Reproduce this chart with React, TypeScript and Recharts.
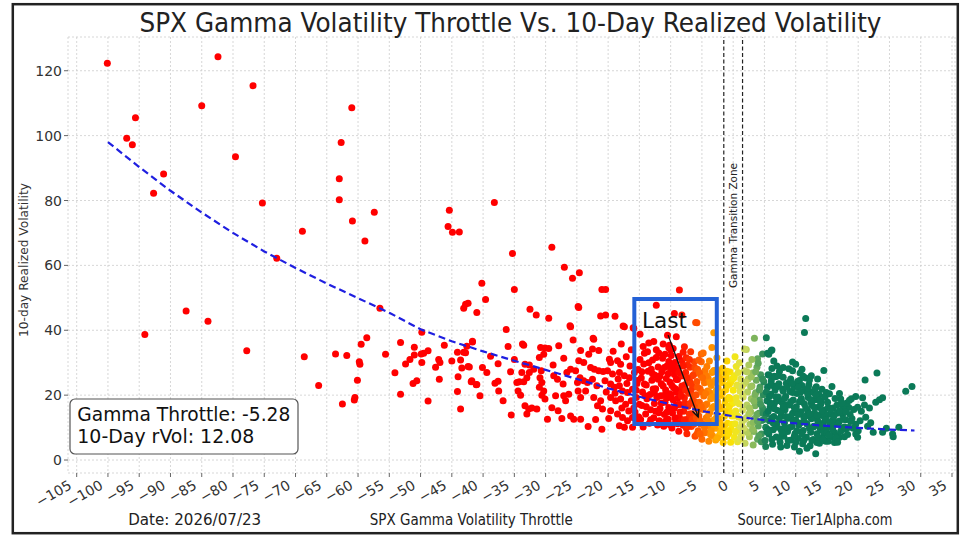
import React from 'react';
import { ScatterChart, Scatter, XAxis, YAxis, CartesianGrid, ReferenceLine, ReferenceArea } from 'recharts';

type P = [number, number];

const xTicks = [-105, -100, -95, -90, -85, -80, -75, -70, -65, -60, -55, -50, -45, -40, -35, -30, -25, -20, -15, -10, -5, 0, 5, 10, 15, 20, 25, 30, 35];
const yTicks = [0, 20, 40, 60, 80, 100, 120];

// Sparse outliers (high vol / far negative throttle)
const outlierPts: P[] = [
  [-100.1, 122.3], [-82.4, 124.3], [-76.8, 115.4], [-85.0, 109.2], [-95.6, 105.5], [-97.0, 99.2], [-96.1, 97.2],
  [-61.0, 108.6], [-62.7, 97.9], [-79.6, 93.5], [-91.1, 88.2], [-92.7, 82.2], [-75.3, 79.2], [-63.0, 86.7],
  [-63.0, 80.2], [-60.9, 73.7], [-57.4, 76.4], [-58.9, 67.5], [-68.9, 70.5], [-73.0, 62.2], [-45.4, 77.0],
  [-45.6, 72.0], [-44.9, 70.2], [-43.8, 70.3], [-38.2, 79.4], [-35.3, 63.7], [-29.0, 65.6], [-27.0, 59.4],
  [-25.7, 56.0], [-24.6, 57.7], [-21.0, 52.6], [-20.4, 52.6], [-35.0, 52.6], [-8.6, 52.4], [-40.2, 54.5],
  [-39.6, 49.5], [-43.1, 46.8], [-42.8, 48.0], [-42.4, 48.3], [-41.0, 45.5], [-24.8, 47.3], [-12.3, 47.7],
  [-94.1, 38.7], [-87.5, 45.9], [-84.0, 42.8], [-77.8, 33.7], [-68.6, 31.8], [-66.3, 23.0], [-56.5, 46.8],
];

// Middle-left scattered points
const midLeftPts: P[] = [
  [-63.6, 32.7], [-61.8, 32.2], [-62.5, 17.3], [-60.5, 19.3], [-60.6, 18.5], [-60.1, 24.6], [-59.8, 30.3],
  [-59.7, 29.5], [-59.5, 35.7], [-58.6, 37.7], [-55.6, 32.6], [-54.1, 26.9], [-53.2, 36.2], [-53.2, 20.3],
  [-52.4, 29.6], [-51.7, 31.0], [-51.0, 34.8], [-51.0, 32.4], [-51.2, 23.6], [-50.6, 24.4], [-49.8, 39.4],
  [-49.9, 32.7], [-49.5, 32.9], [-49.8, 30.1], [-48.8, 33.7], [-48.8, 18.2], [-47.6, 28.6], [-47.1, 31.0],
  [-46.9, 30.1], [-47.0, 24.9], [-46.2, 35.4], [-45.0, 30.5], [-44.1, 33.2], [-44.0, 25.7], [-44.1, 21.1],
  [-43.6, 15.7], [-43.6, 30.8], [-43.4, 28.4], [-43.1, 33.2], [-42.8, 33.1], [-42.6, 35.1], [-42.4, 28.8],
  [-41.8, 24.4], [-41.7, 36.6], [-41.0, 23.3], [-40.5, 19.8], [-40.1, 28.5], [-39.4, 27.0],
];

// Red cloud between -42 and -15
const redCloudPts: P[] = [
  [-32.5, 46.5], [-31.5, 44.7], [-29.5, 43.7], [-24.7, 47.0], [-26.0, 41.1], [-36.3, 40.2], [-21.2, 44.4],
  [-20.4, 44.7], [-18.9, 44.3], [-17.4, 41.1], [-15.9, 40.6], [-22.3, 37.2], [-41.7, 36.4], [-33.5, 35.4],
  [-35.0, 31.0], [-42.2, 28.7], [-37.6, 29.7], [-35.6, 27.2], [-41.9, 24.1], [-41.1, 23.2], [-38.1, 23.7],
  [-37.6, 24.3], [-37.5, 21.3], [-36.8, 18.3], [-30.8, 34.7], [-30.3, 32.6], [-31.0, 31.6], [-30.1, 34.5],
  [-29.5, 34.4], [-33.3, 29.5], [-32.6, 29.3], [-31.9, 28.0], [-33.8, 27.0], [-32.6, 27.0], [-33.0, 25.4],
  [-34.6, 23.9], [-34.2, 24.1], [-33.5, 24.1], [-34.4, 21.3], [-34.0, 20.0], [-33.3, 16.7], [-32.7, 15.7],
  [-32.2, 16.0], [-31.4, 15.7], [-33.0, 14.2], [-30.7, 27.5], [-30.9, 25.4], [-30.6, 23.9], [-31.0, 22.4],
  [-30.3, 21.3], [-30.6, 20.0], [-30.1, 18.8], [-29.7, 12.6], [-28.8, 29.3], [-27.1, 31.4], [-28.7, 26.0],
  [-28.1, 24.9], [-27.2, 23.4], [-28.4, 19.8], [-27.1, 19.8], [-26.3, 20.3], [-26.8, 18.3], [-26.0, 28.0],
  [-25.2, 27.5], [-26.6, 27.0], [-27.4, 12.8], [-26.0, 13.6], [-25.5, 12.6], [-24.4, 12.6], [-24.7, 30.6],
  [-23.9, 30.1], [-24.5, 25.4], [-23.9, 24.4], [-24.9, 23.9], [-24.8, 21.3], [-23.6, 21.3], [-24.4, 19.3],
  [-24.4, 33.8], [-23.1, 32.6], [-22.5, 34.2], [-21.5, 33.8], [-22.8, 28.5], [-22.2, 28.0], [-21.5, 27.5],
  [-20.8, 27.3], [-23.3, 23.9], [-22.5, 24.9], [-21.8, 22.9], [-22.3, 19.3], [-21.2, 18.3], [-21.7, 16.7],
  [-20.9, 15.7], [-23.2, 10.3], [-22.0, 12.5], [-21.0, 9.5], [-19.8, 31.1], [-19.6, 30.1], [-18.5, 30.6],
  [-18.0, 29.5], [-20.1, 27.5], [-19.3, 26.5], [-18.2, 27.0], [-17.4, 26.0], [-16.6, 25.4], [-19.6, 23.4],
  [-19.0, 22.4], [-18.2, 22.9], [-17.7, 21.3], [-16.9, 20.8], [-16.1, 21.8], [-19.6, 19.3], [-18.8, 18.3],
  [-18.0, 18.8], [-17.2, 17.2], [-16.3, 18.3], [-15.5, 19.3], [-19.6, 15.2], [-18.5, 14.2], [-17.7, 13.1],
  [-16.9, 12.1], [-18.2, 10.6], [-16.1, 13.1], [-17.4, 10.1], [-16.1, 10.1], [-33.7, 35.8], [-26.1, 41.4],
  [-22.4, 37.5], [-17.6, 41.3], [-16.0, 40.8], [-17.9, 35.8], [-19.2, 33.5], [-18.4, 25.0], [-17.0, 23.6],
  [-16.5, 29.0], [-15.8, 27.0], [-15.3, 24.5], [-15.9, 16.0], [-17.8, 16.0], [-19.9, 12.8], [-15.4, 11.7],
  [-16.7, 15.1], [-18.9, 20.6], [-17.1, 31.8], [-16.3, 34.0], [-20.3, 21.0], [-20.5, 24.4], [-36.0, 35.0],
  [-38.8, 32.0], [-27.9, 35.2], [-25.6, 37.0], [-29.0, 16.1], [-28.0, 15.2], [-35.5, 13.9],
];

// Dense red zone -15 to -6
const redDensePts: P[] = [
  [-14.8, 12.5], [-14.6, 16.8], [-14.5, 21.0], [-14.7, 25.3], [-14.3, 29.6], [-14.2, 32.9], [-14.0, 14.2],
  [-13.8, 18.9], [-13.9, 23.1], [-13.6, 27.4], [-13.4, 11.3], [-13.2, 15.5], [-13.3, 20.2], [-13.0, 24.6],
  [-12.9, 30.8], [-12.7, 13.0], [-12.6, 17.4], [-12.4, 22.0], [-12.5, 26.1], [-12.2, 19.3], [-12.1, 10.8],
  [-12.0, 28.7], [-12.3, 34.0], [-13.5, 36.1], [-14.9, 38.8], [-11.8, 12.1], [-11.7, 15.9], [-11.6, 19.8],
  [-11.5, 23.5], [-11.4, 27.2], [-11.3, 31.4], [-11.1, 10.4], [-11.0, 14.0], [-10.9, 17.8], [-10.8, 21.6],
  [-10.7, 25.1], [-10.6, 29.0], [-10.4, 12.6], [-10.3, 16.2], [-10.2, 20.4], [-10.1, 24.0], [-10.0, 27.9],
  [-9.9, 32.2], [-9.8, 9.9], [-9.7, 14.5], [-9.6, 18.6], [-9.5, 22.3], [-9.4, 26.4], [-9.3, 30.1],
  [-9.2, 11.8], [-9.1, 16.9], [-9.0, 20.9], [-10.5, 38.5], [-9.1, 38.0], [-10.2, 35.4], [-10.0, 33.9],
  [-8.9, 24.8], [-8.8, 28.4], [-8.7, 8.9], [-8.6, 13.2], [-8.5, 17.1], [-8.4, 21.4], [-8.3, 25.9],
  [-8.2, 30.6], [-8.0, 10.7], [-7.9, 15.0], [-7.8, 19.2], [-7.7, 23.2], [-7.6, 27.0], [-7.5, 31.5],
  [-7.4, 8.1], [-7.3, 12.6], [-7.2, 16.6], [-7.1, 20.6], [-7.0, 24.5], [-6.9, 28.6], [-6.8, 33.4],
  [-6.7, 10.3], [-6.6, 14.3], [-6.5, 18.4], [-6.4, 22.4], [-6.3, 26.4], [-6.2, 30.3], [-6.1, 7.3],
  [-6.0, 12.1], [-6.0, 16.2], [-8.2, 44.7], [-9.4, 45.2], [-10.3, 34.6], [-7.8, 34.9],
  [-15.7, 14.8], [-15.4, 23.6], [-15.2, 27.9], [-15.0, 17.2], [-14.9, 31.0], [-14.4, 10.2], [-14.1, 19.8],
  [-13.7, 33.4], [-13.1, 28.0], [-12.8, 21.9], [-12.4, 15.0], [-12.0, 24.9], [-11.9, 33.0], [-11.5, 17.6],
  [-11.2, 22.8], [-11.0, 28.5], [-10.8, 12.0], [-10.5, 19.2], [-10.3, 30.4], [-10.0, 15.1], [-9.8, 23.0],
  [-9.6, 28.0], [-9.3, 13.0], [-9.1, 24.8], [-8.9, 19.0], [-8.7, 31.9], [-8.4, 11.8], [-8.2, 22.8],
  [-7.9, 26.2], [-7.7, 17.5], [-7.5, 9.9], [-7.3, 29.3], [-7.0, 14.2], [-6.8, 21.4], [-6.5, 26.0],
  [-6.3, 11.0], [-6.1, 18.0],
  [-15.5, 21.5], [-15.1, 13.3], [-14.6, 27.2], [-14.2, 23.4], [-13.9, 16.4], [-13.5, 30.0], [-13.2, 12.4],
  [-12.9, 26.6], [-12.6, 20.6], [-12.3, 31.6], [-11.9, 14.6], [-11.7, 25.9], [-11.4, 11.0], [-11.1, 19.9],
  [-10.9, 32.6], [-10.6, 14.7], [-10.4, 26.6], [-10.1, 10.9], [-9.9, 20.2], [-9.7, 29.4], [-9.4, 16.0],
  [-9.2, 21.9], [-8.9, 11.2], [-8.7, 27.0], [-8.5, 14.8], [-8.3, 19.8], [-8.0, 29.0], [-7.8, 12.4],
  [-7.6, 21.5], [-7.4, 25.4], [-7.2, 10.4], [-6.9, 17.4], [-6.7, 23.5], [-6.5, 12.6], [-6.3, 20.0],
  [-6.1, 28.4], [-14.4, 35.0], [-12.7, 36.5], [-11.2, 35.8], [-9.6, 34.4], [-8.0, 33.2], [-7.0, 31.0],
];

// Orange / yellow transition -6 to 0
const orangePts: P[] = [
  [-5.9, 20.1], [-5.8, 24.2], [-5.7, 28.0], [-5.6, 9.0], [-5.5, 13.6], [-5.4, 17.8], [-5.3, 22.0],
  [-5.2, 26.2], [-5.1, 30.3], [-5.0, 6.4], [-4.9, 11.2], [-4.8, 15.6], [-4.7, 19.7], [-4.6, 23.8],
  [-4.5, 27.6], [-4.4, 8.5], [-4.3, 13.0], [-4.2, 17.3], [-4.1, 21.3], [-4.0, 25.2], [-3.9, 5.8],
  [-3.8, 10.3], [-3.7, 14.8], [-3.6, 18.9], [-3.5, 23.0], [-3.4, 27.0], [-3.3, 7.5], [-3.2, 12.2],
  [-3.1, 16.5], [-3.0, 20.6], [-5.8, 42.3], [-5.1, 32.7], [-3.1, 39.2], [-3.8, 30.5], [-3.4, 34.7],
  [-6.0, 42.4], [-2.9, 24.6], [-2.8, 6.2], [-2.7, 9.8], [-2.6, 14.0], [-2.5, 18.1], [-2.4, 22.2],
  [-2.3, 26.5], [-2.2, 7.6], [-2.1, 11.7], [-2.0, 15.8], [-1.9, 19.9], [-1.8, 23.9], [-1.7, 28.3],
  [-1.6, 5.4], [-1.5, 9.5], [-1.4, 13.5], [-1.3, 17.6], [-1.2, 21.6], [-1.1, 25.5], [-1.0, 7.3],
  [-0.9, 11.3], [-0.8, 15.4], [-0.7, 19.3], [-0.6, 23.4], [-0.5, 27.1], [-0.4, 5.5], [-0.3, 9.4],
  [-0.2, 13.6], [-0.1, 17.5], [0.0, 21.5], [-5.8, 8.0], [-5.6, 15.5], [-5.4, 26.9], [-5.2, 11.0],
  [-5.0, 21.0], [-4.7, 8.3], [-4.5, 16.9], [-4.3, 26.0], [-4.0, 12.0], [-3.8, 20.9], [-3.6, 7.8],
  [-3.4, 16.0], [-3.2, 24.0], [-3.0, 10.5], [-2.8, 19.0], [-2.6, 27.8], [-2.4, 12.8], [-2.2, 20.4],
  [-2.0, 8.6], [-1.8, 16.0], [-1.6, 24.8], [-1.4, 10.6], [-1.2, 18.5], [-1.0, 27.4], [-0.8, 9.0],
  [-0.6, 16.6], [-0.4, 24.0], [-0.2, 11.0], [0.0, 17.8],
  [-5.9, 13.0], [-5.7, 22.4], [-5.5, 30.8], [-5.3, 8.0], [-5.1, 16.4], [-4.9, 25.4], [-4.6, 10.2],
  [-4.4, 20.5], [-4.2, 28.8], [-3.9, 14.0], [-3.7, 23.8], [-3.5, 9.0], [-3.3, 19.5], [-3.1, 27.6],
  [-2.9, 12.6], [-2.7, 21.4], [-2.5, 6.8], [-2.3, 16.6], [-2.1, 25.0], [-1.9, 10.6], [-1.7, 20.8],
  [-1.5, 27.0], [-1.3, 7.2], [-1.1, 14.7], [-0.9, 23.0], [-0.7, 8.2], [-0.5, 19.0], [-0.3, 14.6],
  [-0.1, 25.0], [-4.8, 33.0], [-2.6, 31.5], [-1.0, 30.5],
];

// Yellow-green to green zone 0 to 29
const greenPts: P[] = [
  [0.1, 25.3], [0.2, 7.0], [0.3, 11.2], [0.4, 15.1], [0.5, 19.2], [0.5, 28.8], [0.6, 23.1], [0.7, 5.6],
  [0.8, 9.3], [0.9, 13.2], [1.0, 17.3], [1.1, 21.2], [1.2, 25.0], [1.3, 7.5], [1.4, 11.5], [1.5, 15.4],
  [1.6, 19.4], [1.7, 23.4], [1.8, 27.5], [1.9, 5.2], [2.0, 9.0], [2.1, 13.0], [2.2, 17.0], [2.3, 21.0],
  [2.4, 25.0], [2.5, 29.3], [2.6, 7.2], [2.7, 11.0], [2.8, 14.9], [2.9, 18.9], [3.0, 22.8], [3.1, 26.8],
  [3.2, 4.6], [3.3, 8.8], [3.4, 12.8], [3.5, 16.7], [3.6, 20.7], [3.7, 24.6], [3.8, 28.6], [3.9, 6.4],
  [4.0, 10.5], [4.1, 14.4], [4.2, 18.5], [4.3, 22.5], [4.4, 26.3], [4.5, 8.0], [4.6, 12.2], [4.7, 16.0],
  [4.8, 20.1], [4.9, 24.1], [0.3, 31.8], [2.1, 34.1], [1.8, 34.2], [3.4, 37.5], [3.9, 31.2], [4.0, 29.8],
  [4.7, 32.7], [0.2, 26.0], [0.4, 8.7], [0.7, 13.6], [0.9, 22.8], [1.2, 10.2], [1.5, 19.8], [1.8, 12.5],
  [2.0, 24.0], [2.3, 8.5], [2.6, 16.0], [2.9, 25.7], [3.2, 11.6], [3.5, 20.1], [3.8, 14.0], [4.1, 7.5],
  [4.4, 17.2], [4.7, 25.0],
  [0.2, 13.6], [0.6, 17.8], [0.8, 27.0], [1.1, 6.5], [1.4, 22.5], [1.7, 9.8], [2.2, 27.2], [2.5, 14.2],
  [2.8, 22.6], [3.1, 9.5], [3.3, 18.2], [3.6, 27.2], [3.9, 12.0], [4.2, 21.6], [4.5, 5.6], [4.8, 14.4],
  [3.0, 31.0], [1.0, 30.0],
  [5.1, 6.0], [5.2, 10.1], [5.3, 14.2], [5.4, 18.3], [5.5, 22.4], [5.6, 26.3], [5.7, 8.0], [5.8, 12.1],
  [5.9, 16.2], [6.0, 20.3], [6.1, 24.4], [6.2, 28.2], [6.3, 4.9], [6.4, 9.3], [6.5, 13.4], [6.6, 17.5],
  [6.7, 21.6], [6.8, 25.7], [6.9, 7.1], [7.0, 11.2], [7.1, 15.3], [7.2, 19.4], [7.3, 23.5], [7.4, 27.3],
  [7.5, 5.5], [5.3, 37.7], [6.1, 33.8], [5.7, 32.6], [5.8, 26.1], [6.6, 25.8], [6.2, 33.9], [5.5, 32.9],
  [7.6, 9.6], [7.7, 13.7], [7.8, 17.8], [7.9, 21.9], [8.0, 25.5], [8.1, 7.3], [8.2, 11.4], [8.3, 15.5],
  [8.4, 19.6], [8.5, 23.7], [8.6, 4.5], [8.7, 8.8], [8.8, 12.9], [8.9, 28.1], [9.0, 17.0], [9.1, 21.1],
  [9.2, 25.0], [9.3, 6.2], [9.4, 10.3], [9.5, 14.4], [9.6, 18.5], [9.7, 22.6], [9.8, 4.0], [9.9, 8.2],
  [10.0, 12.3], [10.1, 16.4], [10.2, 20.5], [10.3, 24.2], [10.4, 6.6], [10.5, 10.8], [10.6, 2.7],
  [10.7, 26.8], [10.6, 24.5], [10.8, 14.9], [10.9, 19.0], [11.0, 23.0], [11.1, 5.0], [11.2, 9.1],
  [11.3, 13.2], [11.4, 17.3], [11.5, 21.4], [11.6, 25.3], [11.7, 7.0], [11.8, 11.1], [11.9, 15.2],
  [12.0, 19.3], [12.1, 23.2], [12.2, 24.7], [12.3, 4.4], [12.4, 8.6], [12.5, 12.7], [11.6, 43.6],
  [11.4, 39.3], [10.0, 29.5], [9.5, 30.2], [12.6, 16.8], [12.7, 20.9], [12.8, 6.3], [12.9, 10.4],
  [13.0, 14.5], [13.1, 18.6], [13.2, 1.9], [13.3, 22.6], [13.4, 8.1], [13.5, 12.2], [13.6, 16.3],
  [13.7, 20.3], [13.8, 5.2], [13.9, 9.7], [14.0, 13.8], [14.1, 17.9], [14.2, 21.8], [14.3, 7.0],
  [14.4, 11.3], [14.5, 27.6], [14.6, 15.4], [14.7, 19.4], [14.8, 5.8], [14.9, 9.9], [15.0, 13.9],
  [5.0, 12.6], [5.3, 21.0], [5.6, 9.4], [5.9, 17.6], [6.2, 13.0], [6.5, 22.8], [6.8, 10.1], [7.1, 18.3],
  [7.4, 6.8], [7.7, 15.0], [8.0, 21.2], [8.3, 9.9], [8.6, 17.0], [8.9, 24.0], [9.2, 13.5], [9.5, 20.8],
  [9.8, 7.4], [10.1, 15.3], [10.4, 22.5], [10.7, 11.4], [11.0, 18.0], [11.3, 6.1], [11.6, 13.6],
  [11.9, 20.4], [12.2, 9.8], [12.5, 17.6], [12.8, 13.2], [13.1, 22.0], [13.4, 5.4], [13.7, 11.4],
  [14.0, 17.2], [14.3, 9.0], [14.6, 13.2], [14.9, 20.8], [15.2, 5.8], [15.5, 10.3], [15.8, 14.0],
  [16.2, 8.5], [16.6, 17.0], [17.0, 7.0], [17.5, 14.0], [18.0, 9.5], [18.5, 16.2],
  [5.2, 4.2], [5.4, 8.7], [5.6, 15.0], [5.8, 19.6], [6.0, 23.2], [6.2, 6.4], [6.4, 11.4], [6.6, 15.8],
  [6.8, 19.5], [7.0, 22.6], [7.2, 26.0], [7.4, 12.8], [7.6, 4.0], [7.8, 8.4], [8.0, 16.4], [8.2, 19.0],
  [8.4, 13.4], [8.6, 22.4], [8.8, 6.0], [9.0, 10.0], [9.2, 18.0], [9.4, 23.6], [9.6, 12.0], [9.8, 16.0],
  [10.0, 5.4], [10.2, 9.0], [10.4, 14.0], [10.6, 18.0], [10.8, 21.0], [11.0, 8.0], [11.2, 25.8],
  [11.4, 11.8], [11.6, 16.0], [11.8, 3.6], [12.0, 22.2], [12.2, 14.2], [12.4, 18.6], [12.6, 6.0],
  [12.8, 10.2], [13.0, 16.2], [13.2, 20.0], [13.4, 13.8], [13.6, 7.0], [13.8, 18.4], [14.0, 10.6],
  [14.2, 15.2], [14.4, 6.4], [14.6, 19.6], [14.8, 12.4], [15.0, 8.4], [15.2, 16.2], [15.4, 20.4],
  [15.6, 7.0], [15.8, 12.0], [16.0, 16.0], [16.2, 5.4], [16.4, 11.6], [16.6, 14.4], [16.8, 7.4],
  [17.0, 12.0], [17.2, 18.8], [17.4, 9.8], [17.6, 16.2], [17.8, 7.2], [18.0, 12.4], [18.2, 17.6],
  [18.4, 10.0], [18.7, 14.0], [19.0, 12.8], [19.3, 15.6], [19.6, 11.0], [20.0, 9.0], [20.5, 15.0],
  [21.0, 17.0], [21.8, 16.0], [7.0, 29.0], [8.0, 28.5], [6.5, 30.5], [9.5, 27.5], [12.5, 26.0],
  [13.5, 25.0], [11.0, 28.0],
  [15.1, 17.8], [15.3, 7.6], [15.4, 11.7], [15.6, 15.6], [15.8, 22.7], [15.9, 9.3], [16.1, 13.4],
  [16.3, 19.0], [16.5, 6.8], [16.7, 5.5], [16.8, 11.0], [17.0, 15.2], [17.2, 8.9], [17.4, 17.6],
  [17.6, 12.6], [17.8, 10.2], [18.0, 14.8], [18.3, 7.9], [18.6, 18.4], [18.8, 11.9], [18.9, 18.9],
  [19.2, 9.8], [19.6, 8.0], [19.9, 7.0], [19.9, 16.3], [19.6, 19.6], [16.0, 10.5], [17.0, 20.5],
  [20.3, 12.1], [20.7, 19.2], [21.1, 24.7], [21.2, 13.2], [21.5, 10.4], [22.0, 11.5], [22.4, 8.6],
  [22.8, 17.8], [23.0, 26.8], [23.4, 18.6], [23.9, 19.2], [23.9, 8.6], [24.5, 9.8], [25.5, 8.0],
  [25.6, 7.2], [26.5, 10.1], [27.6, 21.2], [28.6, 22.7],
];

const lastPoint: P = [-5.28, 12.08];

// Fitted trend line
const fitX = [-100, -95, -90, -85, -80, -75, -70, -65, -60, -55, -50, -45, -40, -35, -30, -25, -20, -15, -10, -5, 0, 5, 10, 15, 20, 25, 29];
const fitY = [98, 90.3, 83, 76.3, 70, 64.3, 59.2, 54.4, 49.9, 45.4, 40.3, 36.6, 33.5, 30.6, 27.8, 25.0, 22.1, 19.5, 17.2, 15.1, 13.5, 12.3, 11.3, 10.5, 9.9, 9.4, 9.1];

const transitionLines = [-1.5, 1.5];
const lastBox = { x1: -15.81, x2: -2.62, y1: 11.1, y2: 49.6 };
const arrowFrom = { x: -10.4, y: 38.5 };
const arrowTo = { x: -5.6, y: 13.3 };

const colorStops: [number, [number, number, number]][] = [
  [-9, [255, 0, 0]],
  [-7, [255, 45, 0]],
  [-5, [255, 105, 0]],
  [-3, [255, 155, 0]],
  [-1.5, [255, 205, 0]],
  [0, [248, 232, 10]],
  [1.5, [215, 222, 95]],
  [3, [150, 192, 92]],
  [4.5, [60, 148, 92]],
  [5.5, [11, 122, 88]],
];

function colorFor(x: number): string {
  if (x <= colorStops[0][0]) return `rgb(${colorStops[0][1].join(',')})`;
  const last = colorStops[colorStops.length - 1];
  if (x >= last[0]) return `rgb(${last[1].join(',')})`;
  for (let i = 0; i < colorStops.length - 1; i++) {
    const [a, ca] = colorStops[i];
    const [b, cb] = colorStops[i + 1];
    if (x >= a && x <= b) {
      const t = (x - a) / (b - a);
      const c = ca.map((v, k) => Math.round(v + (cb[k] - v) * t));
      return `rgb(${c.join(',')})`;
    }
  }
  return 'red';
}

const toObj = (arr: P[]) => arr.map(([x, y]) => ({ x, y }));
const scatterData = toObj([...outlierPts, ...midLeftPts, ...redCloudPts, ...redDensePts, ...orangePts, ...greenPts, lastPoint]);
const fitData = fitX.map((x, i) => ({ x, y: fitY[i] }));

const FONT = 'DejaVu Sans, sans-serif';
const fmt = (v: number) => (v < 0 ? '\u2212' + Math.abs(v) : String(v));

const Dot = (props: any) => {
  const { cx, cy, payload } = props;
  if (cx == null || cy == null || !payload) return <g />;
  return <circle cx={cx} cy={cy} r={3.5} fill={colorFor(payload.x)} />;
};
const Empty = () => <g />;

const XTick = (props: any) => {
  const { x, y, payload } = props;
  const tx = x - 4;
  const ty = y + 9;
  return (
    <text x={tx} y={ty} textAnchor="end" transform={`rotate(-30 ${tx} ${ty})`} fontSize={14} fill="#333" fontFamily={FONT}>
      {fmt(payload.value)}
    </text>
  );
};
const YTick = (props: any) => {
  const { x, y, payload } = props;
  return (
    <text x={x} y={y} dy={5} textAnchor="end" fontSize={14} fill="#333" fontFamily={FONT}>
      {payload.value}
    </text>
  );
};

const ArrowShape = (props: any) => {
  const { x1, y1, x2, y2 } = props;
  if ([x1, y1, x2, y2].some((v) => v == null || isNaN(v))) return <g />;
  const ang = Math.atan2(y2 - y1, x2 - x1);
  const L = 8;
  const W = 0.45;
  const p1 = [x2 - L * Math.cos(ang - W), y2 - L * Math.sin(ang - W)];
  const p2 = [x2 - L * Math.cos(ang + W), y2 - L * Math.sin(ang + W)];
  return (
    <g>
      <line x1={x1} y1={y1} x2={x2} y2={y2} stroke="#111" strokeWidth={1.4} />
      <path d={`M${p1[0]},${p1[1]} L${x2},${y2} L${p2[0]},${p2[1]}`} fill="none" stroke="#111" strokeWidth={1.4} />
    </g>
  );
};

export default function App() {
  const topZ: any = { zIndex: 1500 };
  return (
    <div style={{ position: 'absolute', left: 0, top: 0, width: 973, height: 541, background: '#fff', overflow: 'hidden' }}>
      <ScatterChart width={973} height={541} margin={{ top: 37, right: 18, bottom: 18, left: 18 }}>
        <CartesianGrid stroke="#cdcdcd" strokeDasharray="2 2" strokeWidth={0.8} />
        <XAxis
          type="number"
          dataKey="x"
          domain={[-106.39, 35.48]}
          ticks={xTicks}
          allowDataOverflow
          interval={0}
          height={50}
          axisLine={false}
          tickLine={{ stroke: '#666' }}
          tickSize={4}
          tickMargin={2}
          tick={<XTick />}
        />
        <YAxis
          type="number"
          dataKey="y"
          domain={[-4, 130.4]}
          ticks={yTicks}
          allowDataOverflow
          interval={0}
          width={50}
          axisLine={false}
          tickLine={{ stroke: '#666' }}
          tickSize={4}
          tickMargin={2}
          tick={<YTick />}
        />
        {transitionLines.map((x) => (
          <ReferenceLine key={x} x={x} stroke="#222" strokeDasharray="4 2.5" strokeWidth={1.2} {...topZ} />
        ))}
        <Scatter data={scatterData} shape={<Dot />} isAnimationActive={false} />
        <Scatter
          data={fitData}
          line={{ stroke: '#1f1fe0', strokeWidth: 2.2, strokeDasharray: '7 4' }}
          shape={<Empty />}
          isAnimationActive={false}
          {...topZ}
        />
        <ReferenceArea
          x1={lastBox.x1}
          x2={lastBox.x2}
          y1={lastBox.y1}
          y2={lastBox.y2}
          fill="none"
          fillOpacity={0}
          stroke="#2461d6"
          strokeWidth={4}
          strokeOpacity={1}
          ifOverflow="visible"
          {...topZ}
        />
        <ReferenceLine segment={[arrowFrom, arrowTo]} shape={ArrowShape} ifOverflow="visible" {...topZ} />
      </ScatterChart>
      <svg width={973} height={541} style={{ position: 'absolute', left: 0, top: 0, pointerEvents: 'none' }}>
        <rect x={12.8} y={4.2} width={945} height={529} fill="none" stroke="#222" strokeWidth={2.5} />
        <text x={510.5} y={31.5} textAnchor="middle" fontSize={27} fill="#222" fontFamily={FONT} textLength={742} lengthAdjust="spacingAndGlyphs">
          SPX Gamma Volatility Throttle Vs. 10-Day Realized Volatility
        </text>
        <text x={0} y={0} transform="translate(27.5 260) rotate(-90)" textAnchor="middle" fontSize={12.5} fill="#333" fontFamily={FONT} textLength={154} lengthAdjust="spacingAndGlyphs">
          10-day Realized Volatility
        </text>
        <text x={194.7} y={525} textAnchor="middle" fontSize={16} fill="#222" fontFamily={FONT} textLength={133} lengthAdjust="spacingAndGlyphs">
          Date: 2026/07/23
        </text>
        <text x={471.3} y={525} textAnchor="middle" fontSize={16} fill="#222" fontFamily={FONT} textLength={203} lengthAdjust="spacingAndGlyphs">
          SPX Gamma Volatility Throttle
        </text>
        <text x={815} y={525} textAnchor="middle" fontSize={16} fill="#222" fontFamily={FONT} textLength={155} lengthAdjust="spacingAndGlyphs">
          Source: Tier1Alpha.com
        </text>
        <text x={0} y={0} transform="translate(736.5 225.5) rotate(-90)" textAnchor="middle" fontSize={10.5} fill="#222" fontFamily={FONT} textLength={125} lengthAdjust="spacingAndGlyphs">
          Gamma Transition Zone
        </text>
        <text x={642} y={327.5} fontSize={22} fill="#111" fontFamily={FONT} textLength={45} lengthAdjust="spacingAndGlyphs">
          Last
        </text>
        <rect x={70} y={399} width={228} height={55} rx={5} fill="#fff" stroke="#555" strokeWidth={1.2} />
        <text x={77.3} y={420.7} fontSize={20} fill="#111" fontFamily={FONT} textLength={213} lengthAdjust="spacingAndGlyphs">
          Gamma Throttle: -5.28
        </text>
        <text x={77.3} y={442.7} fontSize={20} fill="#111" fontFamily={FONT} textLength={177} lengthAdjust="spacingAndGlyphs">
          10-Day rVol: 12.08
        </text>
      </svg>
    </div>
  );
}
